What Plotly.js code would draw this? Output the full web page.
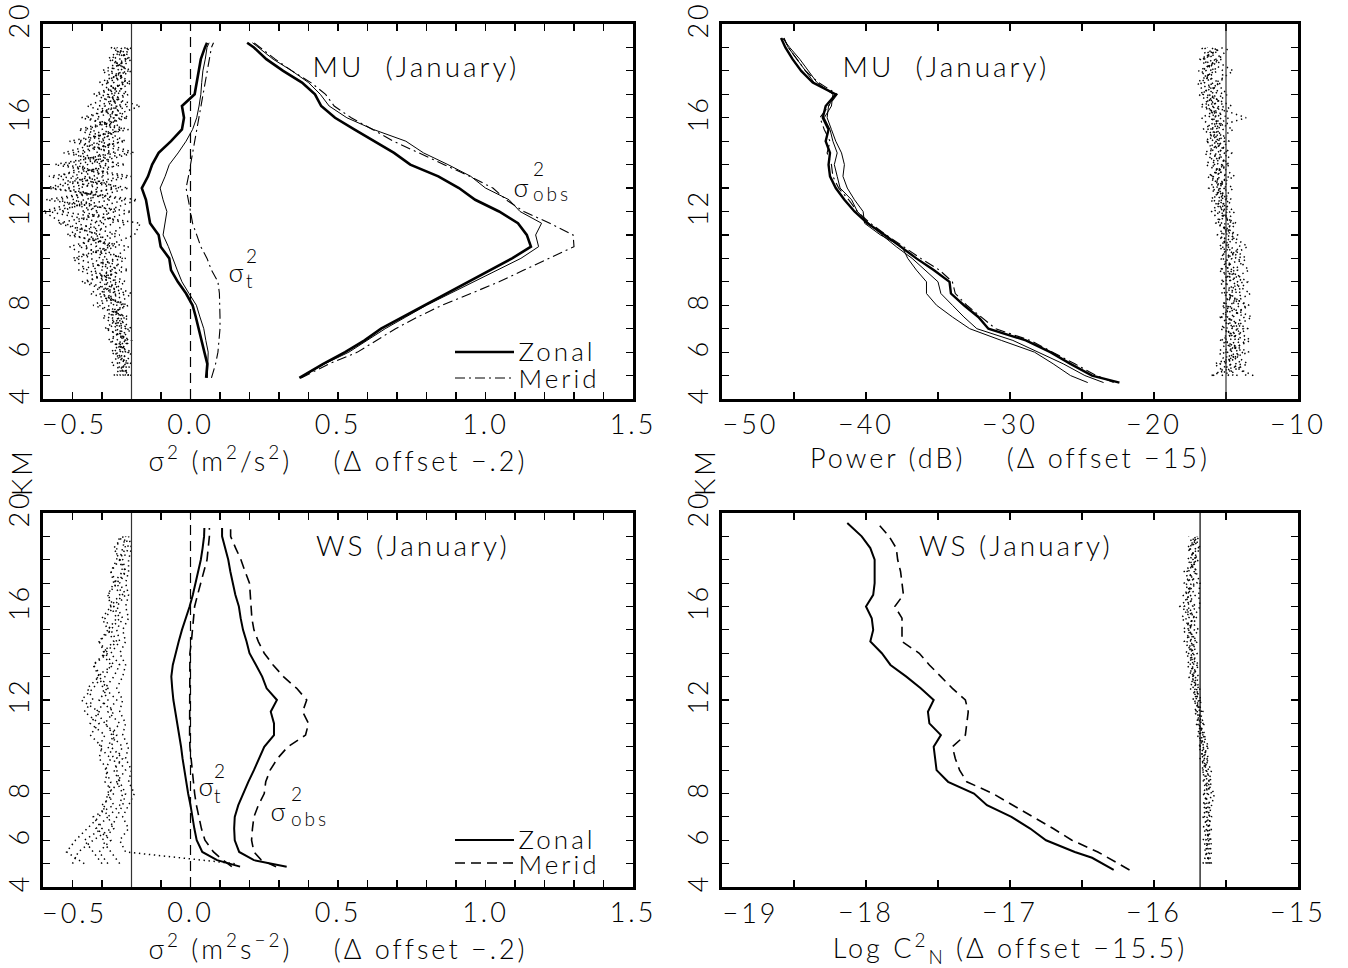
<!DOCTYPE html>
<html><head><meta charset="utf-8">
<script src="https://cdn.plot.ly/plotly-3.0.1.min.js"></script>
<style>
html,body{margin:0;padding:0;background:#fff;}
#chart{width:1348px;height:968px;}
.js-plotly-plot .main-svg text{letter-spacing:3px;}
</style></head><body><div id="chart"></div>
<script>
// ---------- altitude grids (km) ----------
const cloudAlt = [5,5.5,6,6.5,7,7.5,8,8.5,9,9.5,10,10.5,11,11.5,12,12.5,13,13.5,14,14.5,15,15.5,16,16.5,17,17.5,18,18.5,19];
const muSAlt = [4.9,5.5,6,6.5,7,7.5,8,8.5,9,9.5,10,10.5,11,11.5,12,12.5,13,13.5,14,14.5,15,15.5,16,16.5,17,17.5,18,18.5,19,19.2];
const muPAlt = [4.7,5,5.5,6,6.5,7,7.5,8,8.5,9,9.5,10,10.5,11,11.5,12,12.5,13,13.5,14,14.5,15,15.5,16,16.5,17,17.5,18,18.5,19,19.4];
const wsSAlt = [4.87,5.15,5.5,6,6.5,7,7.5,8,8.5,9,9.5,10,10.5,11,11.5,12,12.5,13,13.5,14,14.5,15,15.5,16,16.5,17,17.5,18,18.5,19,19.36];
const wsCAlt = [4.73,5.25,5.5,6,6.5,7,7.5,8,8.5,9,9.5,10,10.5,11,11.5,12,12.5,13,13.5,14,14.5,15,15.5,16,16.5,17,17.5,18,18.5,19,19.57];

// ---------- MU sigma^2 (m2/s2) ----------
const muObsZonalThick = [0.369,0.45,0.524,0.59,0.646,0.72,0.795,0.87,0.947,1.02,1.09,1.154,1.14,1.11,1.046,0.965,0.91,0.84,0.745,0.69,0.62,0.555,0.49,0.443,0.422,0.378,0.314,0.257,0.215,0.192];
const muObsZonalThin  = [0.372,0.455,0.537,0.60,0.66,0.73,0.80,0.88,0.96,1.04,1.12,1.18,1.17,1.19,1.117,1.08,1.0,0.95,0.873,0.79,0.73,0.62,0.53,0.47,0.44,0.40,0.344,0.28,0.229,0.21];
const muObsMerid      = [0.375,0.47,0.566,0.63,0.695,0.77,0.853,0.95,1.046,1.13,1.218,1.30,1.297,1.218,1.13,1.07,1.025,0.947,0.86,0.775,0.688,0.617,0.545,0.487,0.458,0.408,0.344,0.287,0.237,0.215];
const muTZonalThick   = [0.053,0.057,0.047,0.038,0.028,0.018,0.007,-0.015,-0.043,-0.066,-0.072,-0.101,-0.108,-0.137,-0.144,-0.151,-0.165,-0.144,-0.13,-0.108,-0.066,-0.029,-0.022,-0.029,0.014,0.021,0.029,0.035,0.049,0.056];
const muTZonalThin    = [0.057,0.06,0.06,0.052,0.045,0.032,0.02,-0.005,-0.029,-0.045,-0.06,-0.075,-0.093,-0.086,-0.08,-0.093,-0.103,-0.086,-0.072,-0.042,-0.015,0.007,0.021,0.029,0.035,0.038,0.042,0.05,0.056,0.063];
const muTMerid        = [0.071,0.085,0.093,0.097,0.10,0.10,0.10,0.098,0.093,0.071,0.056,0.035,0.021,0.007,0.0,-0.007,-0.015,-0.007,0.0,0.007,0.014,0.021,0.029,0.035,0.042,0.048,0.056,0.063,0.071,0.078];
// MU daily differences (offset -0.2)
const muDiff1 = [-0.21,-0.23,-0.22,-0.25,-0.21,-0.27,-0.23,-0.30,-0.25,-0.33,-0.28,-0.36,-0.24,-0.39,-0.31,-0.45,-0.26,-0.40,-0.28,-0.37,-0.23,-0.34,-0.26,-0.31,-0.22,-0.29,-0.23,-0.26,-0.21];
const muDiff2 = [-0.24,-0.21,-0.26,-0.22,-0.28,-0.22,-0.31,-0.24,-0.35,-0.26,-0.39,-0.25,-0.40,-0.29,-0.48,-0.27,-0.42,-0.23,-0.46,-0.25,-0.41,-0.21,-0.37,-0.23,-0.33,-0.21,-0.28,-0.21,-0.25];
const muDiff3 = [-0.22,-0.25,-0.21,-0.27,-0.23,-0.30,-0.21,-0.34,-0.27,-0.38,-0.23,-0.32,-0.30,-0.45,-0.25,-0.40,-0.31,-0.48,-0.22,-0.43,-0.29,-0.38,-0.22,-0.35,-0.25,-0.31,-0.21,-0.27,-0.22];
const muDiff4 = [-0.26,-0.22,-0.24,-0.21,-0.26,-0.23,-0.28,-0.22,-0.31,-0.24,-0.34,-0.41,-0.27,-0.22,-0.37,-0.22,-0.47,-0.29,-0.39,-0.21,-0.35,-0.26,-0.32,-0.21,-0.28,-0.23,-0.30,-0.22,-0.26];
const muDiff5 = [-0.20,-0.27,-0.23,-0.24,-0.20,-0.25,-0.26,-0.28,-0.22,-0.30,-0.26,-0.21,-0.42,-0.33,-0.20,-0.49,-0.24,-0.36,-0.30,-0.40,-0.22,-0.30,-0.24,-0.29,-0.21,-0.26,-0.22,-0.24,-0.20];
const muDiff6 = [-0.23,-0.20,-0.27,-0.22,-0.25,-0.21,-0.33,-0.25,-0.37,-0.21,-0.31,-0.29,-0.19,-0.17,-0.44,-0.33,-0.38,-0.20,-0.43,-0.27,-0.38,-0.23,-0.28,-0.17,-0.31,-0.22,-0.25,-0.20,-0.27];
const muDiff7 = [-0.25,-0.22,-0.20,-0.28,-0.22,-0.28,-0.22,-0.31,-0.24,-0.35,-0.40,-0.27,-0.35,-0.26,-0.29,-0.18,-0.49,-0.33,-0.25,-0.32,-0.26,-0.36,-0.21,-0.27,-0.24,-0.28,-0.20,-0.28,-0.23];
const muDiff8 = [-0.21,-0.24,-0.25,-0.20,-0.29,-0.24,-0.25,-0.20,-0.29,-0.27,-0.22,-0.38,-0.31,-0.43,-0.50,-0.36,-0.21,-0.44,-0.35,-0.19,-0.31,-0.24,-0.35,-0.25,-0.27,-0.20,-0.27,-0.22,-0.21];

// ---------- MU power (dB) ----------
const muPowZonal = [-22.4,-24.3,-25.8,-27.2,-28.9,-31.5,-32.2,-33.2,-34.1,-34.2,-35.3,-36.5,-37.6,-38.7,-39.9,-40.8,-41.5,-42.1,-42.5,-42.6,-42.5,-42.8,-42.6,-43.0,-42.8,-42.1,-43.7,-44.5,-45.1,-45.6,-45.9];
const muPowThinA = [-24.6,-25.8,-27.0,-28.3,-30.6,-32.8,-34.0,-35.1,-35.8,-35.8,-36.5,-37.1,-37.5,-39.0,-40.1,-40.2,-40.8,-41.3,-41.6,-41.5,-41.7,-42.1,-42.4,-42.7,-42.6,-42.1,-43.6,-44.2,-44.8,-45.4,-45.7];
const muPowThinB = [-23.5,-24.8,-26.3,-28.0,-29.8,-32.3,-33.2,-34.0,-34.8,-35.0,-35.9,-36.8,-37.9,-38.9,-39.8,-40.6,-41.0,-41.8,-42.0,-42.2,-42.0,-42.3,-42.5,-42.9,-42.4,-42.3,-43.4,-44.0,-44.6,-45.3,-45.8];
const muPowMerid = [-22.8,-24.0,-25.5,-27.0,-28.6,-31.0,-32.0,-33.0,-33.8,-34.0,-34.9,-36.2,-37.4,-38.6,-39.7,-40.6,-41.2,-41.9,-42.3,-42.4,-42.7,-42.5,-42.9,-43.2,-42.6,-42.0,-43.3,-44.2,-44.8,-45.4,-45.7];
const muPowDiff1 = [-15.9,-14.6,-15.2,-14.3,-15.0,-13.7,-15.3,-14.5,-15.1,-14.2,-15.4,-14.8,-15.2,-14.6,-15.5,-15.0,-16.2,-15.4,-15.8,-15.1,-16.4,-15.6,-16.0,-15.5,-16.6,-15.9,-16.4,-15.7,-16.3];
const muPowDiff2 = [-14.2,-15.4,-13.8,-15.1,-14.2,-15.3,-14.0,-15.2,-13.8,-15.0,-14.6,-15.5,-14.4,-15.7,-14.9,-16.1,-15.1,-16.3,-14.7,-16.2,-15.4,-16.6,-15.3,-16.5,-15.8,-16.8,-15.6,-16.5,-15.4];
const muPowDiff3 = [-15.3,-13.5,-14.7,-13.6,-15.4,-14.5,-13.6,-14.9,-15.4,-14.4,-13.6,-14.7,-15.6,-14.8,-15.2,-14.6,-15.7,-14.8,-16.4,-15.6,-14.8,-15.9,-16.7,-15.1,-16.2,-15.5,-16.9,-15.3,-16.0];
const muPowDiff4 = [-13.1,-14.9,-15.5,-14.8,-13.5,-15.0,-14.8,-13.3,-14.6,-15.3,-14.9,-14.0,-14.9,-15.3,-16.0,-15.3,-14.5,-15.9,-15.2,-14.6,-16.0,-15.2,-15.7,-16.3,-15.2,-16.5,-16.0,-16.8,-15.2];
const muPowDiff5 = [-14.8,-15.8,-13.4,-15.3,-14.6,-13.2,-15.1,-14.4,-13.5,-14.8,-15.2,-15.1,-14.2,-15.6,-14.7,-15.9,-15.4,-15.0,-16.0,-15.3,-15.7,-14.5,-16.2,-15.8,-16.9,-15.3,-15.2,-16.2,-16.7];
const muPowDiff6 = [-16.0,-13.9,-14.9,-14.0,-15.2,-14.7,-13.4,-15.3,-14.9,-13.4,-14.3,-14.9,-15.4,-14.5,-15.4,-14.8,-16.0,-14.4,-15.5,-16.5,-15.1,-16.1,-14.8,-16.8,-15.6,-16.1,-16.7,-15.5,-14.8];
const muPowDiff7 = [-13.6,-14.3,-15.0,-13.3,-14.4,-15.4,-14.6,-13.9,-15.2,-14.6,-15.0,-13.5,-14.7,-15.1,-14.4,-15.6,-14.9,-16.1,-14.9,-15.8,-16.3,-15.4,-15.9,-14.6,-16.4,-17.0,-15.8,-16.6,-15.6];
const muPowDiff8 = [-14.5,-15.1,-14.1,-15.4,-13.8,-14.9,-15.2,-14.7,-14.2,-15.5,-13.9,-15.3,-15.0,-14.3,-15.8,-15.2,-15.5,-15.6,-15.3,-14.9,-15.5,-16.3,-13.6,-16.0,-14.9,-15.7,-14.5,-15.9,-16.5];

// ---------- WS sigma^2 ----------
const wsObsZonal = [0.326,0.215,0.165,0.150,0.148,0.150,0.162,0.178,0.196,0.215,0.232,0.25,0.283,0.283,0.272,0.293,0.258,0.243,0.222,0.20,0.19,0.178,0.17,0.164,0.152,0.143,0.135,0.128,0.118,0.107,0.107];
const wsObsMerid = [0.29,0.24,0.215,0.207,0.21,0.215,0.23,0.25,0.255,0.27,0.295,0.33,0.39,0.40,0.38,0.394,0.36,0.315,0.28,0.25,0.23,0.215,0.208,0.205,0.203,0.20,0.185,0.171,0.153,0.136,0.136];
const wsTZonal   = [0.168,0.09,0.04,0.021,0.013,0.007,0.0,-0.008,-0.015,-0.022,-0.027,-0.032,-0.039,-0.046,-0.052,-0.058,-0.062,-0.065,-0.06,-0.051,-0.04,-0.029,-0.015,-0.003,0.008,0.017,0.027,0.035,0.041,0.046,0.047];
const wsTMerid   = [0.14,0.11,0.078,0.049,0.037,0.028,0.02,0.014,0.01,0.007,0.003,-0.002,-0.003,-0.003,-0.003,-0.003,-0.003,-0.002,-0.002,-0.002,0.003,0.007,0.01,0.014,0.024,0.035,0.046,0.056,0.06,0.064,0.064];
const wsDiff1 = [-0.36,-0.42,-0.39,-0.35,-0.31,-0.29,-0.28,-0.27,-0.29,-0.27,-0.31,-0.29,-0.34,-0.31,-0.37,-0.33,-0.30,-0.33,-0.28,-0.31,-0.27,-0.29,-0.26,-0.28,-0.25,-0.27,-0.24,-0.26,-0.23];
const wsDiff2 = [-0.30,-0.33,-0.36,-0.30,-0.33,-0.26,-0.28,-0.24,-0.26,-0.23,-0.27,-0.25,-0.29,-0.26,-0.31,-0.28,-0.32,-0.26,-0.29,-0.25,-0.27,-0.24,-0.26,-0.23,-0.25,-0.22,-0.24,-0.22,-0.23];
const wsDiff3 = [-0.24,-0.27,-0.30,-0.26,-0.28,-0.24,-0.23,-0.25,-0.22,-0.25,-0.23,-0.27,-0.24,-0.28,-0.25,-0.29,-0.26,-0.24,-0.27,-0.24,-0.25,-0.23,-0.25,-0.22,-0.24,-0.22,-0.23,-0.21,-0.22];
const wsDiff4 = [0.15,-0.22,-0.24,-0.21,-0.23,-0.21,-0.19,-0.21,-0.20,-0.22,-0.21,-0.23,-0.22,-0.24,-0.23,-0.25,-0.23,-0.22,-0.24,-0.22,-0.23,-0.21,-0.22,-0.21,-0.22,-0.21,-0.21,-0.20,-0.21];
const wsDiff5 = [-0.28,-0.31,-0.27,-0.32,-0.28,-0.30,-0.26,-0.29,-0.28,-0.31,-0.30,-0.34,-0.31,-0.36,-0.33,-0.35,-0.31,-0.33,-0.29,-0.31,-0.28,-0.30,-0.27,-0.28,-0.26,-0.27,-0.25,-0.25,-0.24];
const wsDiff6 = [-0.40,-0.38,-0.33,-0.27,-0.25,-0.23,-0.22,-0.24,-0.25,-0.26,-0.28,-0.26,-0.29,-0.32,-0.28,-0.30,-0.29,-0.27,-0.30,-0.26,-0.28,-0.25,-0.27,-0.24,-0.26,-0.23,-0.24,-0.23,-0.22];

// ---------- WS log Cn2 ----------
const wsCnZonal = [-16.28,-16.43,-16.55,-16.75,-16.86,-16.99,-17.16,-17.25,-17.43,-17.51,-17.52,-17.53,-17.48,-17.56,-17.57,-17.53,-17.62,-17.72,-17.83,-17.89,-17.97,-17.95,-17.96,-18.0,-17.95,-17.94,-17.94,-17.94,-17.97,-18.03,-18.13];
const wsCnMerid = [-16.17,-16.32,-16.39,-16.57,-16.70,-16.84,-16.98,-17.12,-17.30,-17.35,-17.38,-17.40,-17.31,-17.30,-17.29,-17.31,-17.40,-17.48,-17.56,-17.63,-17.75,-17.75,-17.75,-17.80,-17.74,-17.75,-17.76,-17.78,-17.79,-17.84,-17.92];
const wsCnDiff1 = [-15.66,-15.63,-15.61,-15.64,-15.62,-15.60,-15.58,-15.64,-15.62,-15.66,-15.63,-15.68,-15.66,-15.71,-15.69,-15.73,-15.71,-15.75,-15.72,-15.77,-15.74,-15.78,-15.73,-15.77,-15.72,-15.76,-15.71,-15.75,-15.70];
const wsCnDiff2 = [-15.62,-15.60,-15.64,-15.61,-15.66,-15.63,-15.65,-15.61,-15.67,-15.63,-15.68,-15.65,-15.71,-15.67,-15.73,-15.70,-15.76,-15.72,-15.78,-15.73,-15.80,-15.72,-15.79,-15.71,-15.78,-15.70,-15.77,-15.69,-15.74];
const wsCnDiff3 = [-15.60,-15.65,-15.62,-15.63,-15.60,-15.65,-15.62,-15.66,-15.63,-15.68,-15.65,-15.70,-15.67,-15.72,-15.68,-15.75,-15.72,-15.77,-15.73,-15.79,-15.72,-15.81,-15.75,-15.80,-15.70,-15.77,-15.69,-15.76,-15.68];
const wsCnDiff4 = [-15.64,-15.61,-15.60,-15.66,-15.63,-15.61,-15.66,-15.62,-15.60,-15.65,-15.69,-15.64,-15.70,-15.68,-15.72,-15.69,-15.74,-15.70,-15.76,-15.71,-15.77,-15.70,-15.82,-15.74,-15.79,-15.72,-15.75,-15.71,-15.76];
const wsCnDiff5 = [-15.61,-15.64,-15.63,-15.60,-15.65,-15.62,-15.60,-15.65,-15.66,-15.62,-15.66,-15.69,-15.65,-15.70,-15.67,-15.72,-15.69,-15.74,-15.70,-15.75,-15.69,-15.76,-15.71,-15.78,-15.74,-15.79,-15.70,-15.77,-15.69];
const wsCnDiff6 = [-15.63,-15.62,-15.66,-15.62,-15.61,-15.66,-15.63,-15.60,-15.64,-15.67,-15.62,-15.66,-15.69,-15.66,-15.71,-15.68,-15.73,-15.69,-15.75,-15.70,-15.76,-15.73,-15.68,-15.69,-15.68,-15.71,-15.73,-15.68,-15.72];

// reference (offset) lines
const sigmaOffset = -0.2, sigmaZero = 0, powerOffset = -15, cnOffset = -15.68;

// ---------- ticks ----------
const altTickVals = [4,5,6,7,8,9,10,11,12,13,14,15,16,17,18,19,20];
const altTickText = ['4','','6','','8','','','','12','','','','16','','','','20'];
const sigmaTickVals = [-0.5,-0.4,-0.3,-0.2,-0.1,0,0.1,0.2,0.3,0.4,0.5,0.6,0.7,0.8,0.9,1.0,1.1,1.2,1.3,1.4,1.5];
const sigmaTickText = ['','','','','','0.0','','','','','0.5','','','','','1.0','','','','','1.5'];
const powerTickVals = [-50,-45,-40,-35,-30,-25,-20,-15,-10];
const powerTickText = ['','','\u221240','','\u221230','','\u221220','','\u221210'];
const cnTickVals = [-19,-18.5,-18,-17.5,-17,-16.5,-16,-15.5,-15];
const cnTickText = ['','','\u221218','','\u221217','','\u221216','','\u221215'];

// ---------- build ----------
const W = 1348, H = 968;
const PX = p => p / W, PY = p => 1 - p / H;
const traces = [];
function addLine(x, y, xa, ya, width, dash) {
  traces.push({type:'scatter', mode:'lines', x:x, y:y, xaxis:xa, yaxis:ya,
    line:{color:'#000', width:width, dash:dash || 'solid'}, showlegend:false, hoverinfo:'skip'});
}
const DOT = '1.4px,3.6px', DASHDOT = '10px,4px,2px,4px', DASH = '10px,6px';

[muDiff1,muDiff2,muDiff3,muDiff4,muDiff5,muDiff6,muDiff7,muDiff8].forEach(d => addLine(d, cloudAlt, 'x', 'y', 1.5, DOT));
addLine(muObsZonalThick, muSAlt, 'x', 'y', 2.6);
addLine(muObsZonalThin, muSAlt, 'x', 'y', 1);
addLine(muObsMerid, muSAlt, 'x', 'y', 1.1, DASHDOT);
addLine(muTZonalThick, muSAlt, 'x', 'y', 2.6);
addLine(muTZonalThin, muSAlt, 'x', 'y', 1);
addLine(muTMerid, muSAlt, 'x', 'y', 1.1, DASHDOT);

[muPowDiff1,muPowDiff2,muPowDiff3,muPowDiff4,muPowDiff5,muPowDiff6,muPowDiff7,muPowDiff8].forEach(d => addLine(d, cloudAlt, 'x2', 'y2', 1.5, DOT));
addLine(muPowThinA, muPAlt, 'x2', 'y2', 1);
addLine(muPowThinB, muPAlt, 'x2', 'y2', 1);
addLine(muPowMerid, muPAlt, 'x2', 'y2', 1.1, DASHDOT);
addLine(muPowZonal, muPAlt, 'x2', 'y2', 2.4);

[wsDiff1,wsDiff2,wsDiff3,wsDiff4,wsDiff5,wsDiff6].forEach(d => addLine(d, cloudAlt, 'x3', 'y3', 1.5, DOT));
addLine(wsObsZonal, wsSAlt, 'x3', 'y3', 2);
addLine(wsObsMerid, wsSAlt, 'x3', 'y3', 1.6, DASH);
addLine(wsTZonal, wsSAlt, 'x3', 'y3', 2);
addLine(wsTMerid, wsSAlt, 'x3', 'y3', 1.6, DASH);

[wsCnDiff1,wsCnDiff2,wsCnDiff3,wsCnDiff4,wsCnDiff5,wsCnDiff6].forEach(d => addLine(d, cloudAlt, 'x4', 'y4', 1.5, DOT));
addLine(wsCnZonal, wsCAlt, 'x4', 'y4', 2);
addLine(wsCnMerid, wsCAlt, 'x4', 'y4', 1.6, DASH);

const FONT = 'Lato, "DejaVu Sans", sans-serif';
const FW = 300;
function xAxis(dom, anchor, range, vals, text, title) {
  return {domain:dom, anchor:anchor, range:range, tickmode:'array', tickvals:vals, ticktext:text,
    showline:true, linecolor:'#000', linewidth:3, mirror:'allticks', ticks:'inside', ticklen:7,
    tickwidth:1.2, tickcolor:'#000', showgrid:false, zeroline:false,
    tickfont:{size:27, family:FONT, color:'#000', weight:FW},
    title:{text:title, font:{size:27, family:FONT, color:'#000', weight:FW}, standoff:10}};
}
function yAxis(dom, anchor) {
  return {domain:dom, anchor:anchor, range:[4,20], tickmode:'array', tickvals:altTickVals, ticktext:altTickText,
    showline:true, linecolor:'#000', linewidth:3, mirror:'allticks', ticks:'inside', ticklen:7,
    tickwidth:1.2, tickcolor:'#000', showgrid:false, zeroline:false, tickangle:-90,
    tickfont:{size:27, family:FONT, color:'#000', weight:FW}};
}
const xL = [PX(43), PX(633)], xR = [PX(722), PX(1298)];
const yT = [PY(399), PY(24)], yB = [PY(887), PY(513)];
const NB = '\u00a0';
const GAP = NB + NB + NB + NB;

const layout = {
  width:W, height:H, margin:{l:0,r:0,t:0,b:0}, paper_bgcolor:'#fff', plot_bgcolor:'#fff',
  font:{family:FONT, color:'#000', size:27, weight:FW}, showlegend:false,
  xaxis: xAxis(xL, 'y', [-0.5,1.5], sigmaTickVals, sigmaTickText, 'σ<sup>2</sup>'+NB+'(m<sup>2</sup>/s<sup>2</sup>)'+GAP+'(Δ'+NB+'offset'+NB+'\u2212.2)'),
  yaxis: yAxis(yT, 'x'),
  xaxis2: xAxis(xR, 'y2', [-50,-10], powerTickVals, powerTickText, 'Power'+NB+'(dB)'+GAP+'(Δ'+NB+'offset'+NB+'\u221215)'),
  yaxis2: yAxis(yT, 'x2'),
  xaxis3: xAxis(xL, 'y3', [-0.5,1.5], sigmaTickVals, sigmaTickText, 'σ<sup>2</sup>'+NB+'(m<sup>2</sup>s<sup>\u22122</sup>)'+GAP+'(Δ'+NB+'offset'+NB+'\u2212.2)'),
  yaxis3: yAxis(yB, 'x3'),
  xaxis4: xAxis(xR, 'y4', [-19,-15], cnTickVals, cnTickText, 'Log'+NB+'C<sup>2</sup><sub>N</sub>'+NB+'(Δ'+NB+'offset'+NB+'\u221215.5)'),
  yaxis4: yAxis(yB, 'x4'),
  shapes: [],
  annotations: []
};
function vline(xa, ya, x, dash, color) {
  layout.shapes.push({type:'line', xref:xa, yref:ya+' domain', x0:x, x1:x, y0:0, y1:1,
    line:{color:color || '#333', width:1.2, dash:dash || 'solid'}});
}
vline('x','y',sigmaOffset); vline('x','y',sigmaZero,DASH,'#000');
vline('x2','y2',powerOffset);
vline('x3','y3',sigmaOffset); vline('x3','y3',sigmaZero,DASH,'#000');
vline('x4','y4',cnOffset,'solid','#000');
function hseg(x0, x1, y, width, dash) {
  layout.shapes.push({type:'line', xref:'paper', yref:'paper', x0:PX(x0), x1:PX(x1), y0:PY(y), y1:PY(y),
    line:{color:'#000', width:width, dash:dash || 'solid'}});
}
hseg(455, 514, 352, 2.6); hseg(455, 514, 378, 1.1, DASHDOT);
hseg(455, 514, 840, 2); hseg(455, 514, 863, 1.6, DASH);

function ann(text, x, y, size, xanchor, angle, align) {
  layout.annotations.push({text:text, xref:'paper', yref:'paper', x:PX(x), y:PY(y), showarrow:false,
    xanchor:xanchor || 'center', yanchor:'middle', textangle:angle || 0, align:align || 'center',
    font:{size:size, family:FONT, color:'#000', weight:FW}, borderpad:0});
}
ann('MU'+NB+NB+'(January)', 416, 66, 28);
ann('MU'+NB+NB+'(January)', 946, 66, 28);
ann('WS'+NB+'(January)', 413, 545, 28);
ann('WS'+NB+'(January)', 1016, 545, 28);
// sigma labels: symbol, then superscript 2 stacked over the subscript
ann('σ', 522, 187, 26); ann('2<br>obs', 532, 181, 19, 'left', 0, 'left');
ann('σ', 237, 272, 26); ann('2<br>t', 245, 268, 19, 'left', 0, 'left');
ann('σ', 207, 786, 26); ann('2<br>t', 213, 783, 19, 'left', 0, 'left');
ann('σ', 279, 811, 26); ann('2<br>obs', 290, 806, 19, 'left', 0, 'left');
// legend text
ann('Zonal', 525, 351, 26, 'left'); ann('Merid', 525, 378, 26, 'left');
ann('Zonal', 525, 839, 26, 'left'); ann('Merid', 525, 864, 26, 'left');
// KM axis titles
ann('KM', 22, 472, 27, 'center', -90);
ann('KM', 705, 472, 27, 'center', -90);
// first x tick labels (drawn just inside the frame edge as in the original)
ann('\u22120.5', 47, 423, 27, 'left');
ann('\u221250', 726, 423, 27, 'left');
ann('\u22120.5', 47, 912, 27, 'left');
ann('\u221219', 726, 912, 27, 'left');

Plotly.newPlot('chart', traces, layout, {displayModeBar:false, staticPlot:true});
</script></body></html>
